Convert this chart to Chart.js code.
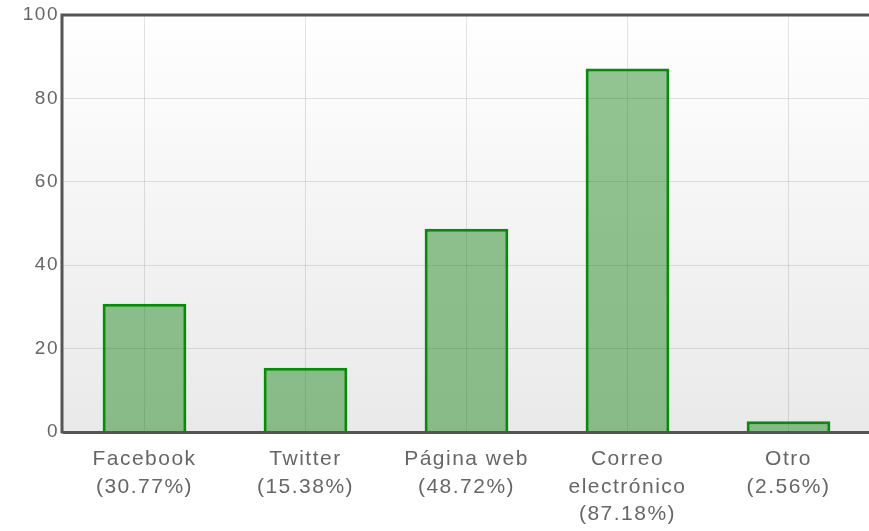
<!DOCTYPE html>
<html>
<head>
<meta charset="utf-8">
<script src="https://cdn.jsdelivr.net/npm/chart.js@4/dist/chart.umd.min.js"></script>
<style>
html,body{margin:0;padding:0;background:#fff;}
#wrap{width:869px;height:531px;}
</style>
</head>
<body>
<div id="wrap"><canvas id="c" width="869" height="531"></canvas></div>
<script>
const categories = [
  ["Facebook", "(30.77%)"],
  ["Twitter", "(15.38%)"],
  ["Página web", "(48.72%)"],
  ["Correo", "electrónico", "(87.18%)"],
  ["Otro", "(2.56%)"]
];
const values = [30.77, 15.38, 48.72, 87.18, 2.56];
const yMin = 0, yMax = 100, yStep = 20;

const FONT = "'Liberation Sans', Arial, sans-serif";
const LS = '1.5px';

const spacingPlugin = {
  id: 'spacing',
  beforeUpdate(chart) { chart.ctx.letterSpacing = LS; },
  beforeLayout(chart) { chart.ctx.letterSpacing = LS; },
  beforeDraw(chart) { chart.ctx.letterSpacing = LS; }
};

const bgPlugin = {
  id: 'bg',
  beforeDraw(chart) {
    const {ctx, chartArea: a} = chart;
    ctx.save();
    const g = ctx.createLinearGradient(0, a.top, 0, a.bottom);
    g.addColorStop(0, '#ffffff');
    g.addColorStop(1, '#e9e9e9');
    ctx.fillStyle = g;
    ctx.fillRect(a.left - 2, a.top, a.right - a.left + 2, a.bottom - a.top);
    ctx.restore();
  },
  afterDraw(chart) {
    const {ctx, chartArea: a} = chart;
    ctx.save();
    ctx.strokeStyle = '#555555';
    ctx.lineWidth = 3;
    ctx.beginPath();
    ctx.moveTo(a.left - 3.5, a.top);
    ctx.lineTo(chart.width, a.top);
    ctx.moveTo(a.left - 2, a.top - 1.5);
    ctx.lineTo(a.left - 2, a.bottom + 1.5);
    ctx.stroke();
    ctx.restore();
  }
};

new Chart(document.getElementById('c'), {
  type: 'bar',
  data: {
    labels: categories,
    datasets: [{
      data: values,
      backgroundColor: 'rgba(20,130,20,0.46)',
      borderColor: '#0a8a0a',
      borderWidth: 3,
      barPercentage: 0.52,
      categoryPercentage: 1
    }]
  },
  options: {
    responsive: false,
    animation: false,
    layout: { padding: { top: 15, left: 0, right: 0, bottom: 0 } },
    plugins: { legend: { display: false }, tooltip: { enabled: false } },
    scales: {
      x: {
        offset: true,
        grid: { offset: false, color: 'rgba(0,0,0,0.11)', drawTicks: false },
        border: { color: '#555555', width: 3 },
        ticks: {
          color: '#666666', font: { family: FONT, size: 21, lineHeight: 1.3 },
          padding: 14, maxRotation: 0, autoSkip: false
        },
        afterFit(s) { s.height = 99; s.paddingLeft = 0; s.paddingRight = 0; }
      },
      y: {
        min: yMin, max: yMax,
        grid: { color: 'rgba(0,0,0,0.11)', drawTicks: false },
        border: { display: false },
        ticks: {
          stepSize: yStep, color: '#666666',
          font: { family: FONT, size: 19 }, padding: 5
        },
        afterFit(s) { s.width = 64; s.paddingTop = 0; s.paddingBottom = 0; }
      }
    }
  },
  plugins: [spacingPlugin, bgPlugin]
});
</script>
</body>
</html>
